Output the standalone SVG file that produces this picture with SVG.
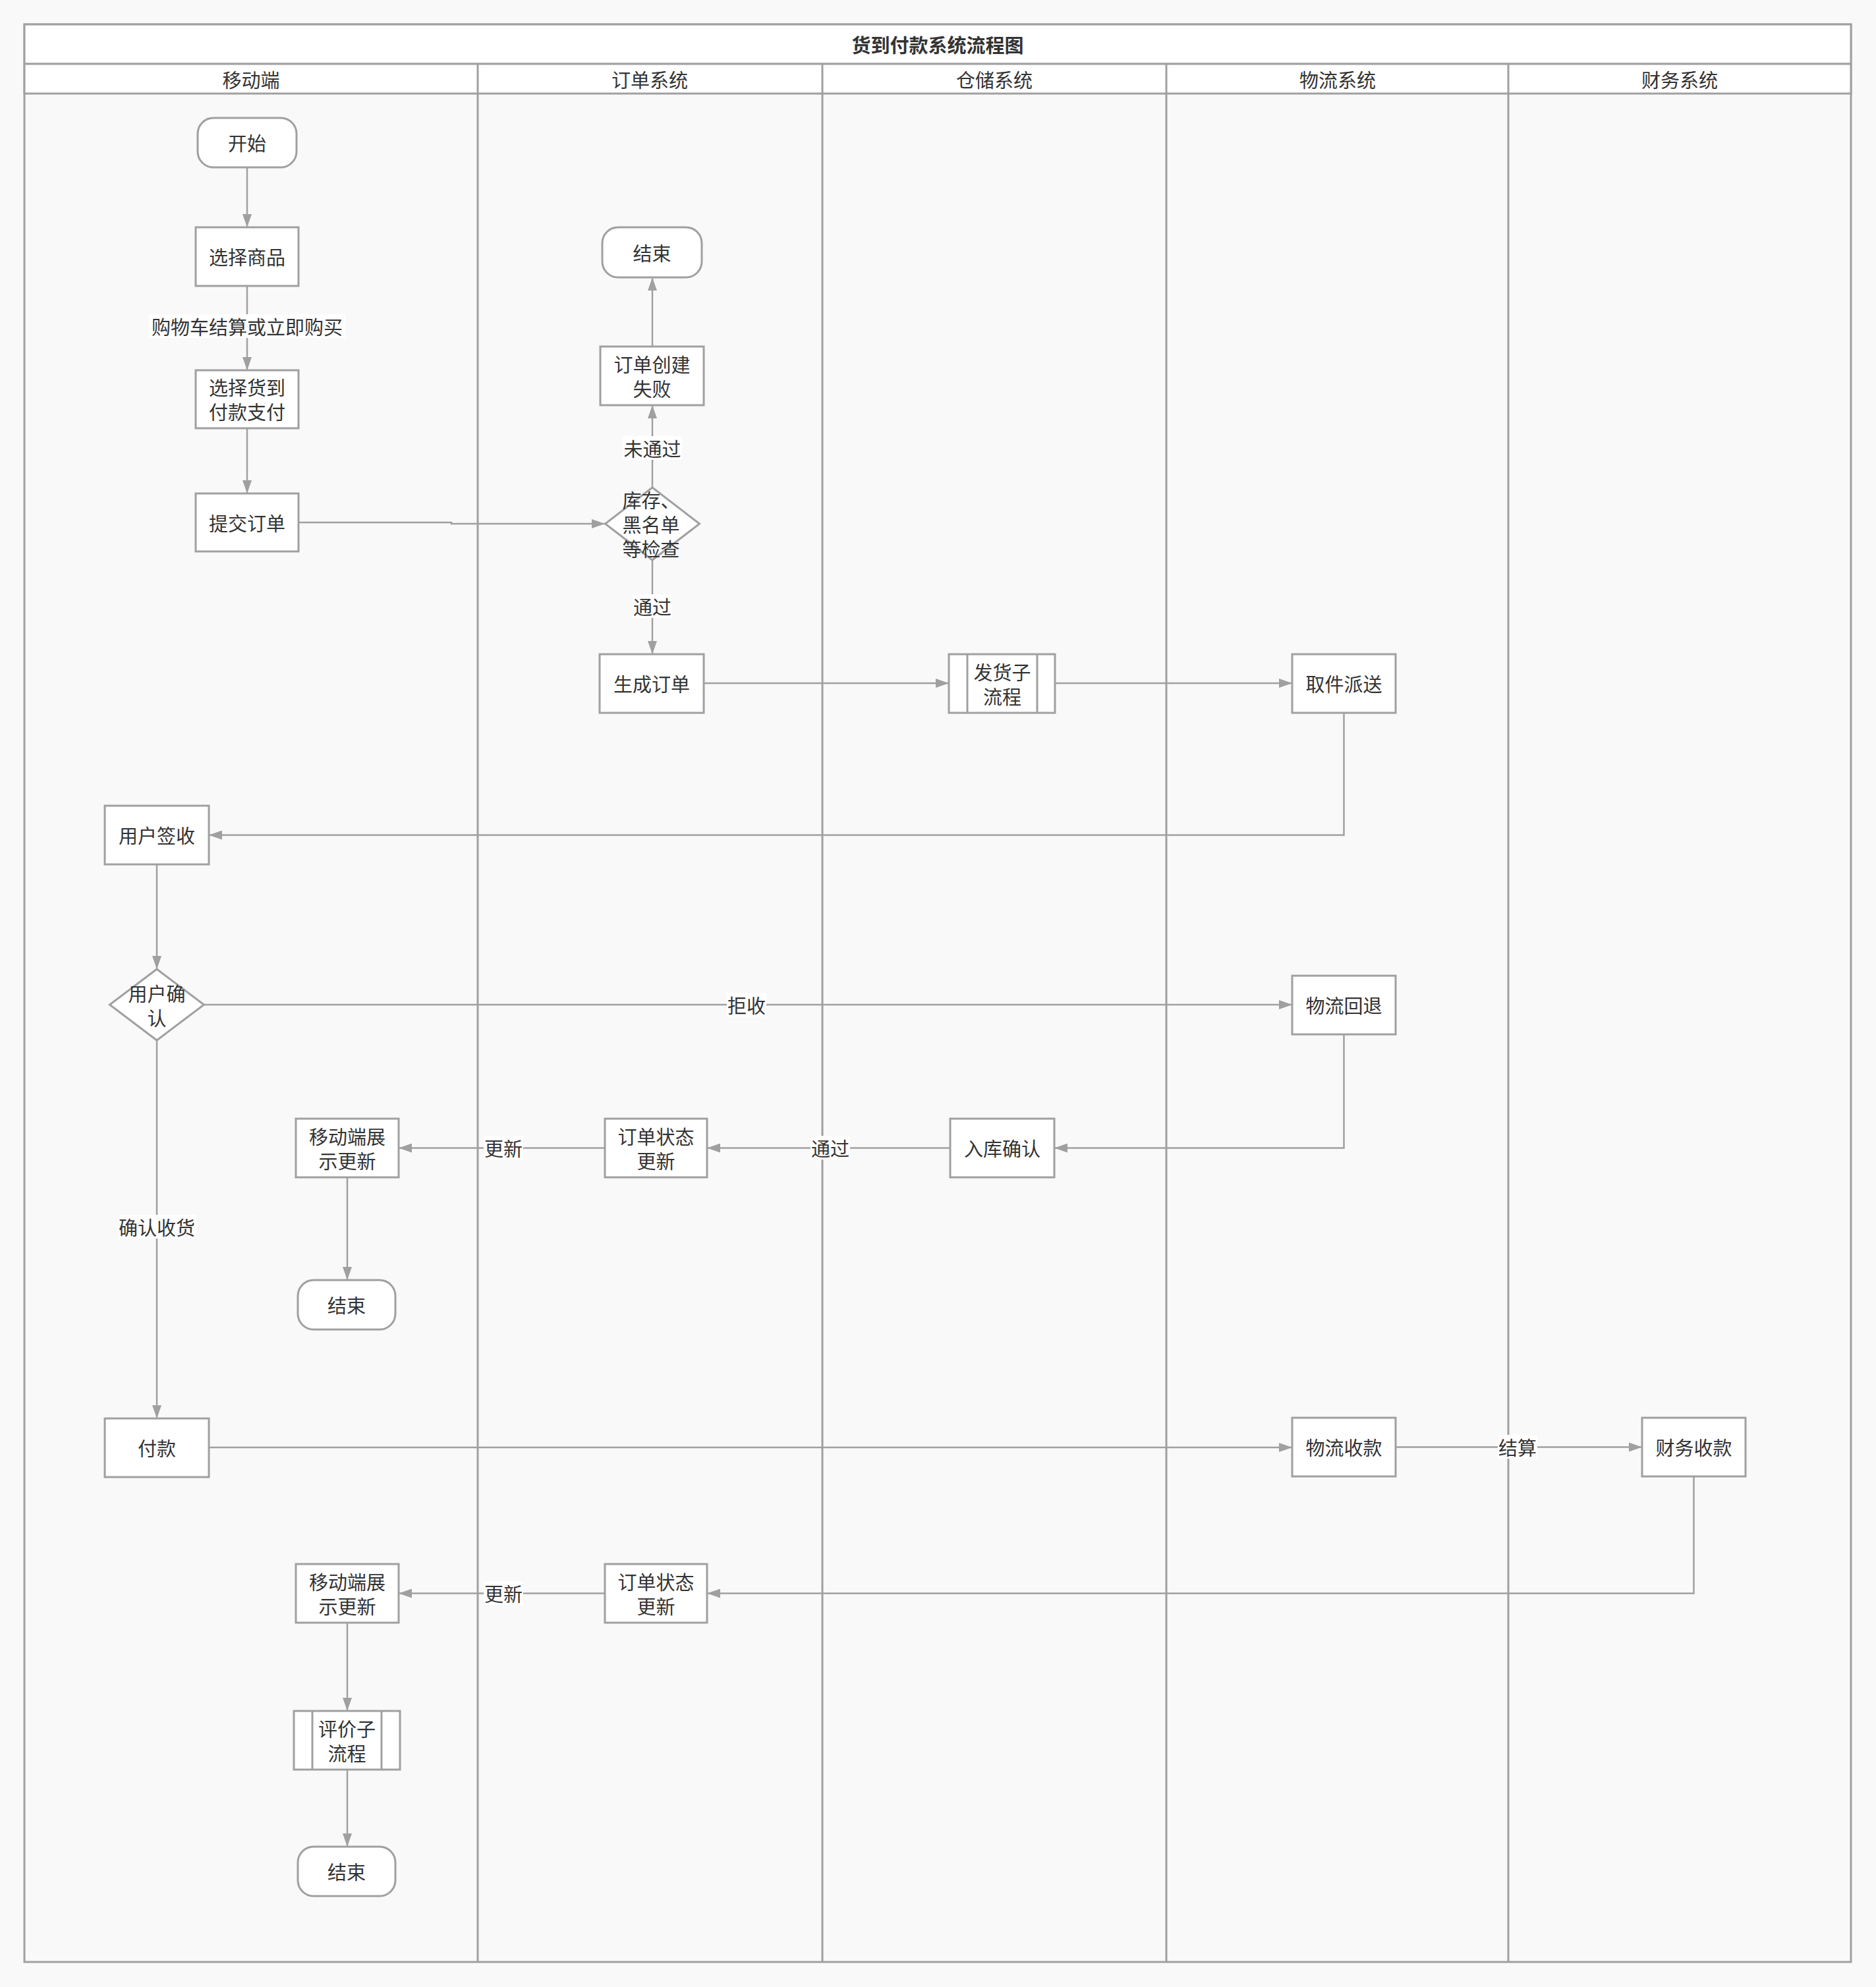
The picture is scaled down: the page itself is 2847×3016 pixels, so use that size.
<svg xmlns="http://www.w3.org/2000/svg" width="2847" height="3016" viewBox="0 0 2847 3016">
<defs>
<marker id="arr" markerUnits="userSpaceOnUse" markerWidth="20" markerHeight="14" refX="20" refY="7" orient="auto"><path d="M0,0 L20,7 L0,14 z" fill="#a0a0a0"/></marker>
</defs>
<style>
.t{font-family:"Noto Sans CJK SC","Noto Sans",sans-serif;font-size:29px;fill:#333;text-anchor:middle;dominant-baseline:central}
.b{font-weight:bold}
.n{fill:#fff;stroke:#a0a0a0;stroke-width:3}
.c{fill:none;stroke:#a0a0a0;stroke-width:2.5;marker-end:url(#arr)}
.lb{fill:#fff}
.ln{stroke:#a0a0a0;stroke-width:3;fill:none}
</style>
<rect x="0" y="0" width="2847" height="3016" fill="#f9f9f9"/>
<g id="pool">
<rect x="37" y="37" width="2772" height="2941" fill="#f9f9f9" stroke="#a0a0a0" stroke-width="3"/>
<rect x="37" y="37" width="2772" height="60" fill="#fff" stroke="#a0a0a0" stroke-width="3"/>
<rect x="37" y="97" width="2772" height="45" fill="#fff" stroke="#a0a0a0" stroke-width="3"/>
<line class="ln" x1="725" y1="97" x2="725" y2="2978"/>
<line class="ln" x1="1248" y1="97" x2="1248" y2="2978"/>
<line class="ln" x1="1770" y1="97" x2="1770" y2="2978"/>
<line class="ln" x1="2289" y1="97" x2="2289" y2="2978"/>
<text class="t b" x="1423" y="67">货到付款系统流程图</text>
<text class="t" x="381" y="120">移动端</text>
<text class="t" x="986" y="120">订单系统</text>
<text class="t" x="1509" y="120">仓储系统</text>
<text class="t" x="2030" y="120">物流系统</text>
<text class="t" x="2549" y="120">财务系统</text>
</g>
<g id="connectors">
<path class="c" d="M375,254 V345"/>
<path class="c" d="M375,434 V562"/>
<path class="c" d="M375,650 V749"/>
<path class="c" d="M453,793 H685 V795 H918"/>
<path class="c" d="M990,740 V615"/>
<path class="c" d="M990,526 V421"/>
<path class="c" d="M990,850 V993"/>
<path class="c" d="M1068,1037 H1440"/>
<path class="c" d="M1601,1037 H1961"/>
<path class="c" d="M2039.5,1082 V1267.5 H317"/>
<path class="c" d="M238,1312 V1471"/>
<path class="c" d="M309,1525 H1961"/>
<path class="c" d="M2039.5,1570 V1742.5 H1600"/>
<path class="c" d="M1442,1742.5 H1073"/>
<path class="c" d="M918,1742.5 H605"/>
<path class="c" d="M527,1787 V1943"/>
<path class="c" d="M238,1579 V2153"/>
<path class="c" d="M317,2197 H1961"/>
<path class="c" d="M2118,2196.5 H2492"/>
<path class="c" d="M2570.5,2241 V2418.5 H1073"/>
<path class="c" d="M918,2418.5 H605"/>
<path class="c" d="M527,2463 V2597"/>
<path class="c" d="M527,2686 V2803"/>
<rect class="lb" x="226" y="477" width="298" height="36"/>
<text class="t" x="375" y="495">购物车结算或立即购买</text>
<rect class="lb" x="945" y="662" width="90" height="36"/>
<text class="t" x="990" y="680">未通过</text>
<rect class="lb" x="960" y="902" width="60" height="36"/>
<text class="t" x="990" y="920">通过</text>
<rect class="lb" x="1103" y="1507" width="60" height="36"/>
<text class="t" x="1133" y="1525">拒收</text>
<rect class="lb" x="1230" y="1724" width="60" height="36"/>
<text class="t" x="1260" y="1742">通过</text>
<rect class="lb" x="734" y="1724" width="60" height="36"/>
<text class="t" x="764" y="1742">更新</text>
<rect class="lb" x="180" y="1844" width="118" height="36"/>
<text class="t" x="238" y="1862">确认收货</text>
<rect class="lb" x="2273" y="2178" width="60" height="36"/>
<text class="t" x="2303" y="2196">结算</text>
<rect class="lb" x="734" y="2400" width="60" height="36"/>
<text class="t" x="764" y="2418">更新</text>
</g>
<g id="start">
<rect class="n" x="300" y="179" width="150" height="75" rx="24"/>
<text class="t" x="375" y="216">开始</text>
</g>
<g id="selectGoods">
<rect class="n" x="297" y="345" width="156" height="89"/>
<text class="t" x="375" y="389">选择商品</text>
</g>
<g id="selectCOD">
<rect class="n" x="297" y="562" width="156" height="88"/>
<text class="t" x="375" y="587">选择货到</text>
<text class="t" x="375" y="624">付款支付</text>
</g>
<g id="submitOrder">
<rect class="n" x="297" y="749" width="156" height="88"/>
<text class="t" x="375" y="793">提交订单</text>
</g>
<g id="check">
<path class="n" d="M990,740 L1061.5,795 L990,850 L918.5,795 Z"/>
<text class="t" x="988" y="758">库存、</text>
<text class="t" x="988" y="795">黑名单</text>
<text class="t" x="988" y="832">等检查</text>
</g>
<g id="createFail">
<rect class="n" x="911" y="526" width="157" height="89"/>
<text class="t" x="989.5" y="552">订单创建</text>
<text class="t" x="989.5" y="589">失败</text>
</g>
<g id="end1">
<rect class="n" x="914" y="345" width="151" height="76" rx="24"/>
<text class="t" x="989.5" y="383">结束</text>
</g>
<g id="genOrder">
<rect class="n" x="910" y="993" width="158" height="89"/>
<text class="t" x="989" y="1037">生成订单</text>
</g>
<g id="shipSub">
<rect class="n" x="1440" y="993" width="161" height="89"/>
<line class="ln" x1="1468" y1="993" x2="1468" y2="1082"/>
<line class="ln" x1="1574" y1="993" x2="1574" y2="1082"/>
<text class="t" x="1521" y="1019">发货子</text>
<text class="t" x="1521" y="1056">流程</text>
</g>
<g id="pickup">
<rect class="n" x="1961" y="993" width="157" height="89"/>
<text class="t" x="2039.5" y="1037">取件派送</text>
</g>
<g id="sign">
<rect class="n" x="159" y="1223" width="158" height="89"/>
<text class="t" x="238" y="1267">用户签收</text>
</g>
<g id="confirm">
<path class="n" d="M238,1471 L309.5,1525 L238,1579 L166.5,1525 Z"/>
<text class="t" x="238" y="1507">用户确</text>
<text class="t" x="238" y="1544">认</text>
</g>
<g id="returnLogi">
<rect class="n" x="1961" y="1481" width="157" height="89"/>
<text class="t" x="2039.5" y="1525">物流回退</text>
</g>
<g id="stockIn">
<rect class="n" x="1442" y="1698" width="158" height="89"/>
<text class="t" x="1521" y="1742">入库确认</text>
</g>
<g id="orderUpd1">
<rect class="n" x="918" y="1698" width="155" height="89"/>
<text class="t" x="995.5" y="1724">订单状态</text>
<text class="t" x="995.5" y="1761">更新</text>
</g>
<g id="mobileUpd1">
<rect class="n" x="449" y="1698" width="156" height="89"/>
<text class="t" x="527" y="1724">移动端展</text>
<text class="t" x="527" y="1761">示更新</text>
</g>
<g id="end2">
<rect class="n" x="452" y="1943" width="148" height="75" rx="24"/>
<text class="t" x="526" y="1980">结束</text>
</g>
<g id="pay">
<rect class="n" x="159" y="2153" width="158" height="89"/>
<text class="t" x="238" y="2197">付款</text>
</g>
<g id="logiCollect">
<rect class="n" x="1961" y="2152" width="157" height="89"/>
<text class="t" x="2039.5" y="2196">物流收款</text>
</g>
<g id="finCollect">
<rect class="n" x="2492" y="2152" width="157" height="89"/>
<text class="t" x="2570.5" y="2196">财务收款</text>
</g>
<g id="orderUpd2">
<rect class="n" x="918" y="2374" width="155" height="89"/>
<text class="t" x="995.5" y="2400">订单状态</text>
<text class="t" x="995.5" y="2437">更新</text>
</g>
<g id="mobileUpd2">
<rect class="n" x="449" y="2374" width="156" height="89"/>
<text class="t" x="527" y="2400">移动端展</text>
<text class="t" x="527" y="2437">示更新</text>
</g>
<g id="reviewSub">
<rect class="n" x="446" y="2597" width="161" height="89"/>
<line class="ln" x1="474" y1="2597" x2="474" y2="2686"/>
<line class="ln" x1="579" y1="2597" x2="579" y2="2686"/>
<text class="t" x="526.5" y="2623">评价子</text>
<text class="t" x="526.5" y="2660">流程</text>
</g>
<g id="end3">
<rect class="n" x="452" y="2803" width="148" height="75" rx="24"/>
<text class="t" x="526" y="2840">结束</text>
</g>
</svg>
